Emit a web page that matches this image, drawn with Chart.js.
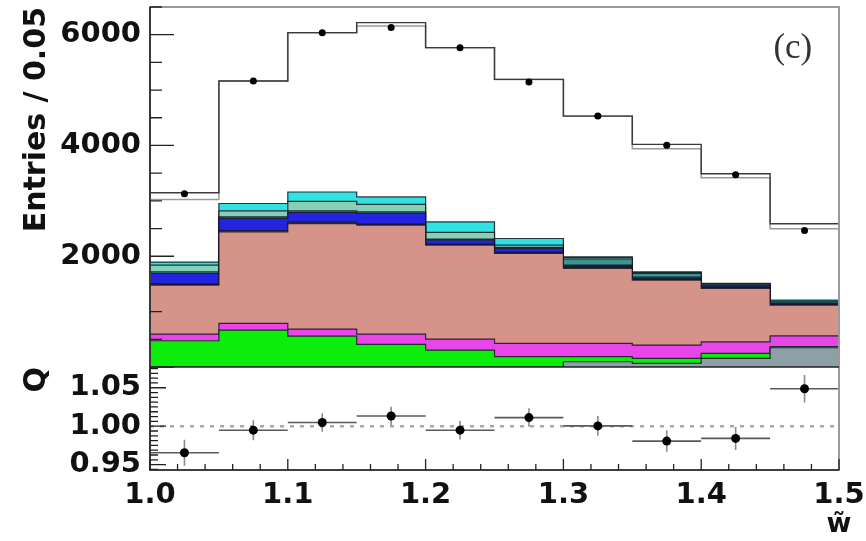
<!DOCTYPE html>
<html>
<head>
<meta charset="utf-8">
<script src="https://cdn.jsdelivr.net/npm/chart.js@4.4.1/dist/chart.umd.min.js"></script>
<style>
  html, body { margin: 0; padding: 0; background: #fff; }
  #wrap { width: 866px; height: 541px; }
</style>
</head>
<body>
<div id="wrap"><canvas id="chart" width="866" height="541"></canvas></div>
<script>
// bin edges of w~ (width 0.05)
const binEdges = [1.00, 1.05, 1.10, 1.15, 1.20, 1.25, 1.30, 1.35, 1.40, 1.45, 1.50];

// stacked simulation components, bottom to top (entries per bin)
const bkgGray    = [0, 0, 0, 0, 0, 0, 95, 66, 156, 348];
const bkgGreen   = [474, 666, 558, 409, 306, 186, 91, 91, 91, 20];
const bkgMagenta = [120, 121, 126, 185, 198, 241, 241, 239, 208, 195];
const sigSalmon  = [886, 1653, 1906, 1966, 1696, 1623, 1353, 1174, 965, 555];
const bkgNavy    = [20, 25, 25, 25, 25, 30, 35, 28, 27, 22];
const bkgBlue    = [190, 218, 175, 187, 65, 60, 25, 24, 23, 12];
const bkgTeal    = [30, 28, 30, 28, 20, 20, 110, 68, 25, 26];
const bkgAqua    = [120, 109, 170, 135, 120, 40, 25, 15, 8, 14];
const bkgCyan    = [55, 132, 170, 135, 190, 120, 15, 15, 7, 18];

// total histograms and data
const totalUpper = [3146, 5163, 6037, 6218, 5766, 5193, 4530, 4019, 3489, 2586];
const totalLower = [3025, 5163, 6037, 6156, 5766, 5193, 4530, 3941, 3417, 2496];
const dataEntries = [3128, 5163, 6037, 6128, 5766, 5145, 4530, 4006, 3471, 2465];

// ratio panel Q
const ratioQ   = [0.9655, 0.9948, 1.0048, 1.0133, 0.9948, 1.0112, 1.0004, 0.9806, 0.9841, 1.0487];
const ratioErr = [0.017, 0.013, 0.012, 0.012, 0.012, 0.012, 0.013, 0.014, 0.015, 0.018];

// tick labels
const yTicks = [2000, 4000, 6000];
const qTicks = [0.95, 1.00, 1.05];
const xTicks = [1.0, 1.1, 1.2, 1.3, 1.4, 1.5];

const centers = binEdges.slice(0, -1).map((e, i) => (e + binEdges[i + 1]) / 2);

// histogram outline: value held from each left edge, closed at the last edge
function stepPoints(values) {
  const pts = values.map((v, i) => ({ x: binEdges[i], y: v }));
  pts.push({ x: binEdges[binEdges.length - 1], y: values[values.length - 1] });
  return pts;
}

const layers = [
  { name: 'gray', values: bkgGray, color: '#8d9fa7' },
  { name: 'green', values: bkgGreen, color: '#0ced0c' },
  { name: 'magenta', values: bkgMagenta, color: '#e846e8' },
  { name: 'salmon', values: sigSalmon, color: '#d6938a' },
  { name: 'navy', values: bkgNavy, color: '#1b1b6a' },
  { name: 'blue', values: bkgBlue, color: '#2424e0' },
  { name: 'teal', values: bkgTeal, color: '#399690' },
  { name: 'aqua', values: bkgAqua, color: '#86d1b6' },
  { name: 'cyan', values: bkgCyan, color: '#30e2e2' }
];

let running = centers.map(() => 0);
const layerSets = layers.map((layer, i) => {
  running = running.map((r, j) => r + layer.values[j]);
  return {
    label: layer.name,
    data: stepPoints(running),
    yAxisID: 'y',
    stepped: true,
    backgroundColor: layer.color,
    borderColor: 'rgba(15,20,30,0.85)',
    borderWidth: 1.2,
    pointRadius: 0,
    fill: i === 0 ? 'origin' : '-1',
    order: 10
  };
});

// horizontal (bin width) and vertical (error) bars of the ratio
const qHoriz = [];
const qVert = [];
centers.forEach((c, i) => {
  qHoriz.push({ x: binEdges[i], y: ratioQ[i] }, { x: binEdges[i + 1], y: ratioQ[i] }, { x: binEdges[i + 1], y: null });
  qVert.push({ x: c, y: ratioQ[i] - ratioErr[i] }, { x: c, y: ratioQ[i] + ratioErr[i] }, { x: c, y: null });
});

const tickFont = { family: 'DejaVu Sans', weight: 'bold', size: 29 };

// frame, inward tick marks and the two free labels
const frameTicks = {
  id: 'frameTicks',
  afterDatasetsDraw(chart) {
    const { ctx } = chart;
    const { x, y, yQ } = chart.scales;
    ctx.save();
    // outer grey frame
    ctx.strokeStyle = '#9a9a9a';
    ctx.lineWidth = 2;
    ctx.strokeRect(x.left, y.top, x.right - x.left, yQ.bottom - y.top);
    // dark axes
    ctx.strokeStyle = '#222';
    ctx.lineWidth = 1.6;
    ctx.beginPath();
    ctx.moveTo(x.left, y.top); ctx.lineTo(x.left, yQ.bottom); ctx.lineTo(x.right, yQ.bottom);
    ctx.moveTo(x.left, y.bottom); ctx.lineTo(x.right, y.bottom);
    ctx.stroke();

    ctx.lineWidth = 1.3;
    ctx.beginPath();
    for (let v = 0; v <= y.max; v += 500) {
      const py = y.getPixelForValue(v);
      const len = v % 2000 === 0 ? 24 : 12;
      ctx.moveTo(x.left, py); ctx.lineTo(x.left + len, py);
    }
    for (let k = -1; k <= 21; k++) {
      const v = 0.95 + k * 0.05 / 8;
      if (v < yQ.min || v > yQ.max) continue;
      const py = yQ.getPixelForValue(v);
      const len = k % 8 === 0 ? 16 : 8;
      ctx.moveTo(x.left, py); ctx.lineTo(x.left + len, py);
    }
    for (let k = 0; k <= 25; k++) {
      const px = x.getPixelForValue(1 + k * 0.02);
      const len = k % 5 === 0 ? 11 : 6;
      ctx.moveTo(px, yQ.bottom); ctx.lineTo(px, yQ.bottom - len);
    }
    ctx.stroke();

    ctx.fillStyle = '#333';
    ctx.textAlign = 'center';
    ctx.textBaseline = 'middle';
    ctx.font = '35px "Liberation Serif"';
    ctx.fillText('(c)', x.getPixelForValue(1.4665), y.getPixelForValue(5745));
    ctx.fillStyle = '#111';
    ctx.font = 'bold 27px "DejaVu Sans"';
    ctx.fillText('w\u0303', x.right, chart.height - 16);
    ctx.restore();
  }
};

new Chart(document.getElementById('chart'), {
  type: 'line',
  data: {
    datasets: [
      ...layerSets,
      {
        label: 'total (grey)',
        data: stepPoints(totalLower),
        yAxisID: 'y', stepped: true, fill: false,
        borderColor: '#9a9a9a', borderWidth: 1.5, pointRadius: 0, order: 2
      },
      {
        label: 'total',
        data: stepPoints(totalUpper),
        yAxisID: 'y', stepped: true, fill: false,
        borderColor: '#3a3a3a', borderWidth: 1.4, pointRadius: 0, order: 1
      },
      {
        label: 'data',
        data: centers.map((c, i) => ({ x: c, y: dataEntries[i] })),
        yAxisID: 'y', showLine: false,
        pointRadius: 3.5, pointBackgroundColor: '#000', pointBorderWidth: 0, order: 0
      },
      {
        label: 'Q = 1',
        data: [{ x: binEdges[0], y: 1 }, { x: binEdges[binEdges.length - 1], y: 1 }],
        yAxisID: 'yQ', fill: false,
        borderColor: '#a8a8a8', borderWidth: 2.5, borderDash: [4, 6], pointRadius: 0, order: 3
      },
      {
        label: 'Q bins',
        data: qHoriz,
        yAxisID: 'yQ', fill: false, spanGaps: false,
        borderColor: '#5a5a5a', borderWidth: 1.6, pointRadius: 0, order: 2
      },
      {
        label: 'Q errors',
        data: qVert,
        yAxisID: 'yQ', fill: false, spanGaps: false,
        borderColor: '#8a8a8a', borderWidth: 1.6, pointRadius: 0, order: 2
      },
      {
        label: 'Q',
        data: centers.map((c, i) => ({ x: c, y: ratioQ[i] })),
        yAxisID: 'yQ', showLine: false,
        pointRadius: 4.5, pointBackgroundColor: '#000', pointBorderWidth: 0, order: 0
      }
    ]
  },
  options: {
    responsive: false,
    devicePixelRatio: 1,
    animation: false,
    layout: { padding: { top: 7, right: 27, left: 0, bottom: 0 } },
    plugins: { legend: { display: false }, tooltip: { enabled: false } },
    scales: {
      x: {
        type: 'linear', min: 1.0, max: 1.5,
        grid: { display: false, drawTicks: false }, border: { display: false },
        afterBuildTicks: s => { s.ticks = xTicks.map(v => ({ value: v })); },
        afterFit: s => { s.height = 71; s.paddingLeft = 0; s.paddingRight = 0; },
        ticks: { font: tickFont, color: '#111', padding: 8, maxRotation: 0, autoSkip: false,
                 callback: v => v.toFixed(1) }
      },
      y: {
        type: 'linear', position: 'left', stack: 'panels', stackWeight: 360, weight: 2,
        min: 0, max: 6500,
        grid: { display: false, drawTicks: false }, border: { display: false },
        afterBuildTicks: s => { s.ticks = yTicks.map(v => ({ value: v })); },
        afterFit: s => { s.width = 150; s.paddingTop = 0; s.paddingBottom = 0; },
        ticks: { font: tickFont, color: '#111', padding: 9, autoSkip: false, callback: v => String(v) },
        title: { display: true, text: 'Entries / 0.05', align: 'end', color: '#111',
                 font: { family: 'DejaVu Sans', weight: 'bold', size: 30 }, padding: { top: 19 } }
      },
      yQ: {
        type: 'linear', position: 'left', stack: 'panels', stackWeight: 103, weight: 1,
        min: 0.943, max: 1.077,
        grid: { display: false, drawTicks: false }, border: { display: false },
        afterBuildTicks: s => { s.ticks = qTicks.map(v => ({ value: v })); },
        afterFit: s => { s.width = 150; s.paddingTop = 0; s.paddingBottom = 0; },
        ticks: { font: tickFont, color: '#111', padding: 9, autoSkip: false, callback: v => v.toFixed(2) },
        title: { display: true, text: 'Q', align: 'end', color: '#111',
                 font: { family: 'DejaVu Sans', weight: 'bold', size: 30 }, padding: { top: 19 } }
      }
    }
  },
  plugins: [frameTicks]
});
</script>
</body>
</html>
